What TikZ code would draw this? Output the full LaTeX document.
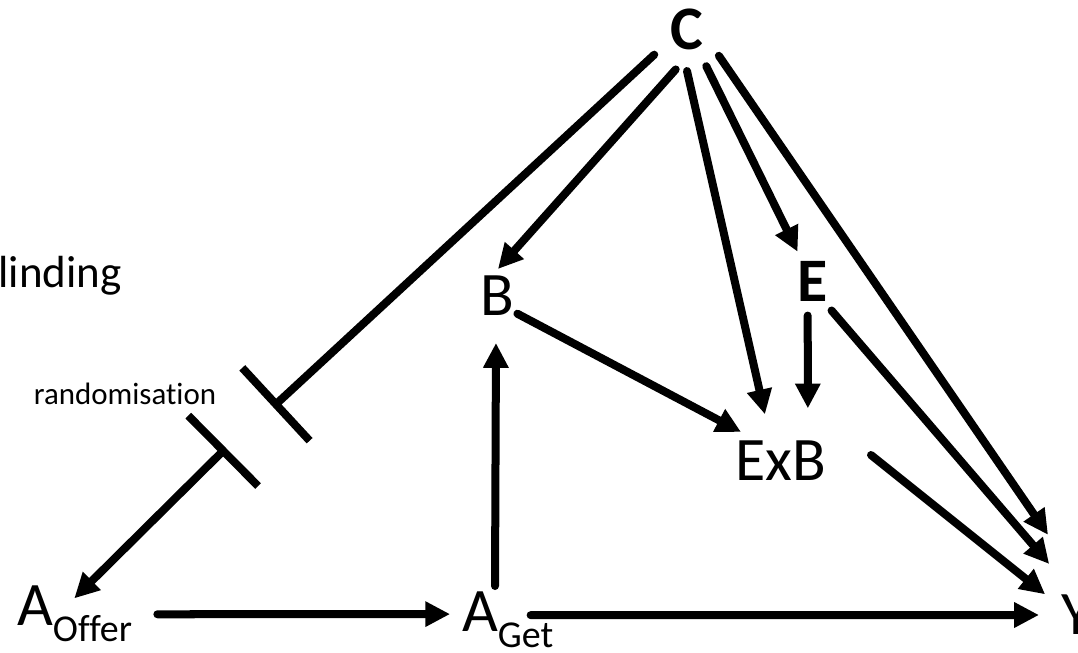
\documentclass[tikz,border=0pt]{standalone}
\usepackage{fontspec}
\setmainfont{Carlito}[Ligatures={NoCommon,NoContextual}]
\usetikzlibrary{arrows.meta}

\newcommand{\subtxt}[1]{\rlap{\raisebox{-0.2cm}{\fontsize{13.5}{16}\selectfont #1}}}

\begin{document}
\begin{tikzpicture}[x=0.0125cm, y=-0.0125cm,
    >={Triangle[length=0.31cm, width=0.3cm]},
    var/.style={circle, inner sep=0pt, outer sep=0pt, text height=13.9pt, text depth=0pt, font=\fontsize{22}{26}\selectfont},
    note/.style={inner sep=0pt, anchor=base},
    arrow/.style={->, line width=0.1cm, line cap=round},
    cut/.style={line width=0.1cm, line cap=round}
]
    \useasboundingbox (0,0) rectangle (1078,653);

    \node[var, minimum size=1.025cm] (C) at (687,30) {\bfseries C};
    \node[var, minimum size=0.675cm] (B) at (497,296) {B};
    \node[var, minimum size=0.85cm] (E) at (813,282) {\bfseries E};
    \node[var, minimum size=1.2cm] (ExB) at (781,461) {ExB};
    \node[var, minimum size=0.95cm] (Y) at (1077,615) {Y};
    \node[var, minimum size=1.0cm] (AOffer) at (35,606) {A\subtxt{Offer}};
    \node[var, minimum size=0.75cm] (AGet) at (480,612) {A\subtxt{Get}};

    \node[note, anchor=base west, font=\fontsize{16}{19}\selectfont] (blind) at (-2,288) {linding};
    \node[note, font=\fontsize{11}{13}\selectfont] (randlbl) at (125,405) {randomisation};

    % randomisation cuts the path from C
    \coordinate (rand1) at (273,407);
    \coordinate (rand2) at (226,448);
    \draw[cut, -{Bar[width=1.24cm]}] (C.-143) -- (rand1);
    \draw[arrow, {Bar[width=1.24cm]}->] (rand2) -- (AOffer.11);

    \draw[arrow] (C.-106) -- (B.88);
    \draw[arrow] (C.-90) -- (ExB.109);
    \draw[arrow] (C.-62) -- (E.117);
    \draw[arrow, shorten >=0.64cm] (C.-39) -- (Y.90);
    \draw[arrow] (B.-41) -- (ExB.144);
    \draw[arrow, shorten >=0.14cm] (E.-99) -- (ExB.57);
    \draw[arrow, shorten >=0.26cm] (E.-57) -- (Y.112);
    \draw[arrow] ([shift={(90,-6)}]ExB.center) -- (Y.147);
    \draw[arrow, shorten <=1.04cm] (AOffer.-12) -- (AGet.184);
    \draw[arrow, shorten >=0.25cm] (AGet.60) -- (B.-92);
    \draw[arrow, shorten <=0.26cm] (AGet.-6) -- (Y.180);
\end{tikzpicture}
\end{document}
